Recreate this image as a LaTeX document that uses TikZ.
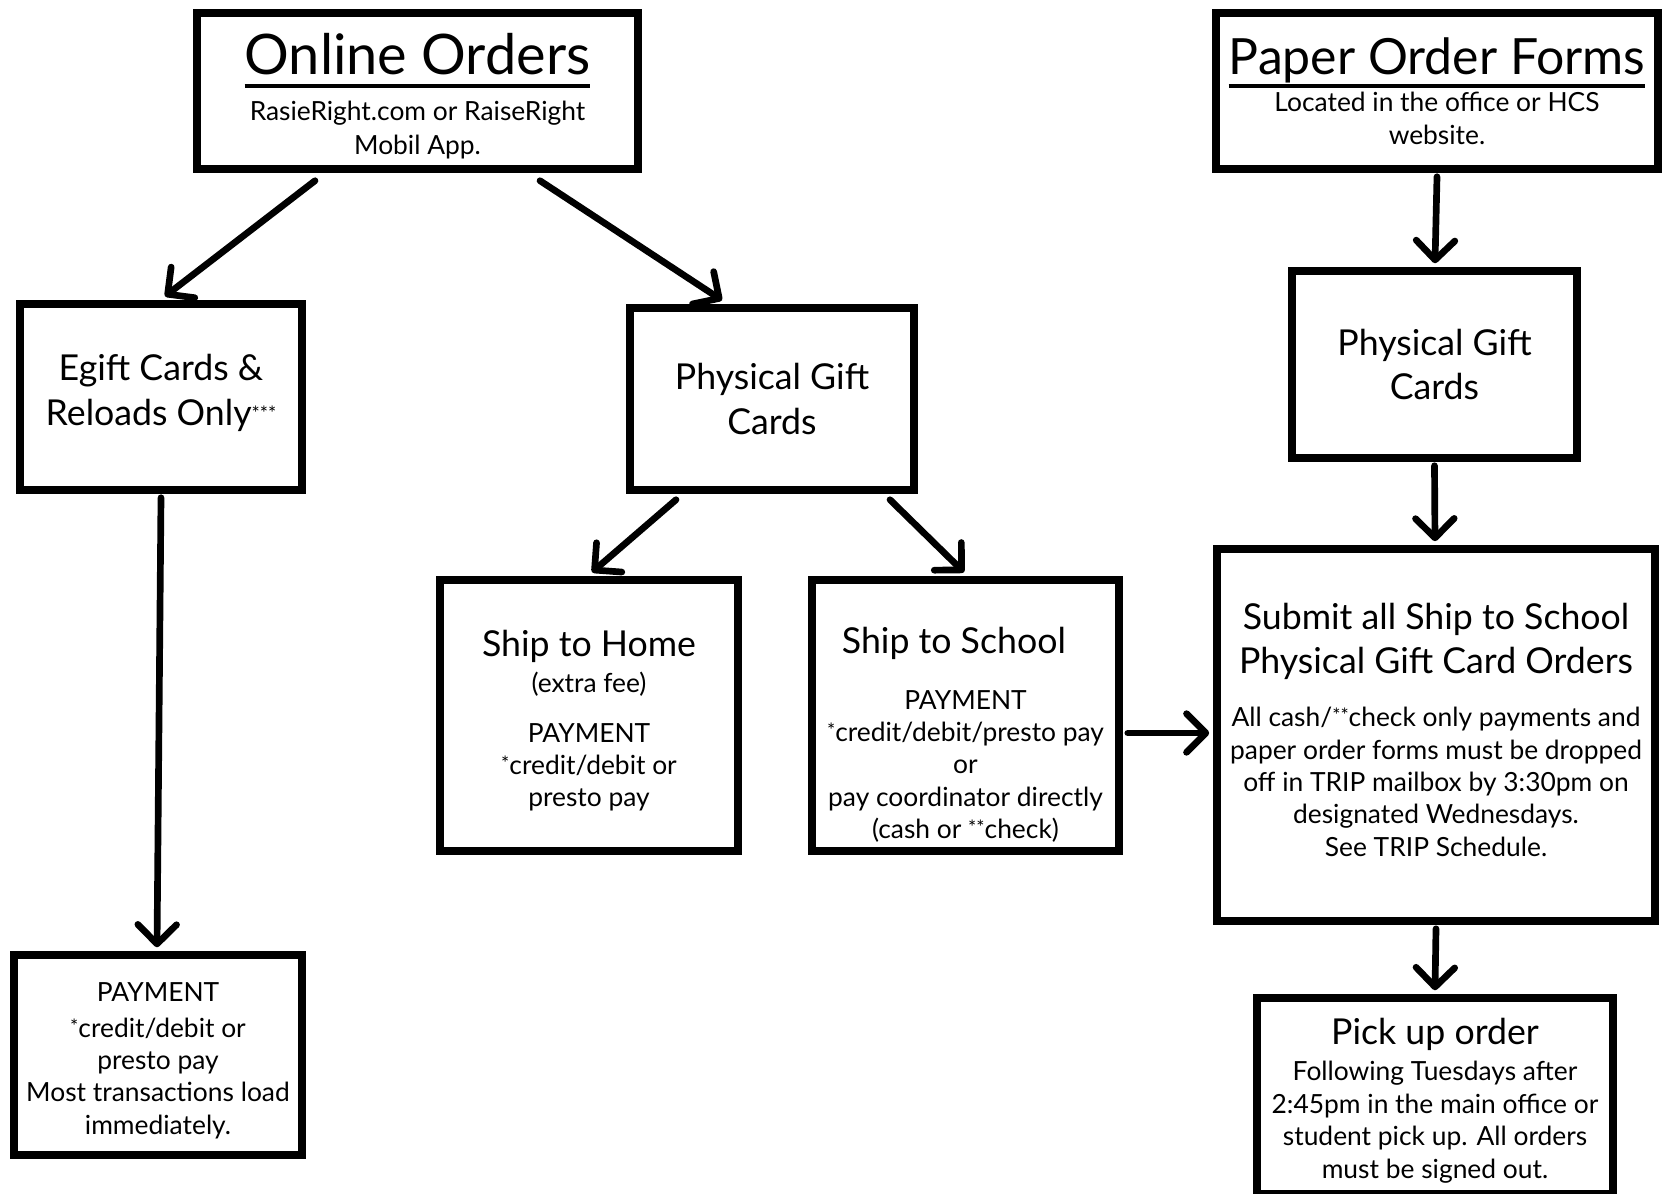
\documentclass[tikz,border=0pt]{standalone}
\usepackage{fontspec}
\setmainfont{Lato}
\usetikzlibrary{arrows.meta,calc}
\newcommand\titleline[1]{\setbox0\hbox{#1}\rlap{\rule[-4pt]{\wd0}{1.1pt}}\box0}
\newcommand\midtxt{\fontsize{10.15}{12.7}\selectfont}
\newcommand\smalltxt{\fontsize{7.5}{9.2}\selectfont\lineskiplimit=-20pt\lineskip=0pt}
\newcommand\stars[1]{\raisebox{0.3ex}{\fontsize{5.5}{5.5}\selectfont #1}}

\begin{document}
\begin{tikzpicture}[x=0.01cm,y=-0.01cm,
    box/.style={draw,line width=2.1pt,inner sep=0pt,align=center,font=\smalltxt},
    arr/.style={line width=1.9pt,line cap=round,-{Straight Barb[length=5.5pt,width=11pt,round]}}]
  \useasboundingbox (0,0) rectangle (1666,1194);
  \fill[white] (0,0) rectangle (1666,1194);

  % online side
  \node[box,minimum width=4.41cm,minimum height=1.56cm] (online) at (417.5,91)
    {\rule{0pt}{14.5pt}\fontsize{15.9}{18}\selectfont\titleline{Online Orders}\\[4pt]
     RasieRight.com or RaiseRight\\[0.4pt] Mobil App.};
  \node[box,minimum width=2.82cm,minimum height=1.86cm] (egift) at (161,397)
    {\midtxt Egift Cards \&\\[3.5pt] \midtxt Reloads Only\stars{***}\rule[-4pt]{0pt}{0pt}};
  \node[box,minimum width=2.84cm,minimum height=1.82cm] (physA) at (772,399)
    {\midtxt Physical Gift\\[3.5pt] \midtxt Cards};
  \node[box,minimum width=2.88cm,minimum height=2.00cm] (payment) at (158,1055)
    {\rule{0pt}{8.5pt}PAYMENT\\[1.1pt] \stars{*}credit/debit or\\ presto pay\\
     Most transactions load\\ immediately.};
  \node[box,minimum width=2.98cm,minimum height=2.71cm] (home) at (589,715.5)
    {\rule{0pt}{10.5pt}\midtxt Ship to Home\\[0.9pt] (extra fee)\\[5pt] PAYMENT\\
     \stars{*}credit/debit or\\ presto pay};
  \node[box,minimum width=3.07cm,minimum height=2.71cm] (school) at (965.5,715.5)
    {\rule{0pt}{18.5pt}\midtxt Ship to School\hspace*{6.6pt}\\[6.5pt] PAYMENT\\ \stars{*}credit/debit/presto pay\\
     or\\ pay coordinator directly\\ (cash or \stars{**}check)};

  % paper side
  \node[box,minimum width=4.42cm,minimum height=1.56cm] (paper) at (1437,91)
    {\fontsize{14.2}{17}\selectfont\titleline{Paper Order Forms}\\[1.5pt]
     Located in the office or HCS\\ website.};
  \node[box,minimum width=2.85cm,minimum height=1.87cm] (physB) at (1434.5,364.5)
    {\midtxt Physical Gift\\[3.5pt] \midtxt Cards};
  \node[box,minimum width=4.38cm,minimum height=3.72cm] (submit) at (1436,735)
    {\midtxt Submit all Ship to School\\[3.2pt] \midtxt Physical Gift Card Orders\\[6pt]
     All cash/\stars{**}check only payments and\\ paper order forms must be dropped\\
     off in TRIP mailbox by 3:30pm on\\ designated Wednesdays.\\
     See TRIP Schedule.\rule[-3pt]{0pt}{0pt}};
  \node[box,minimum width=3.56cm,minimum height=1.96cm] (pickup) at (1435,1096)
    {\rule{0pt}{10pt}\midtxt Pick up order\\[1.2pt] Following Tuesdays after\\ 2:45pm in the main office or\\
     student pick up. All orders\\ must be signed out.};

  % arrows
  \draw[arr] ($(online.south)+(-102.5,8)$) -- ($(egift.north)+(4,-4)$);
  \draw[arr] ($(online.south)+(122.5,8)$) -- ($(physA.north)+(-50,-4)$);
  \draw[arr] ($(egift.south)+(0,4)$) -- ($(payment.north)+(-1,-4)$);
  \draw[arr] ($(physA.south)+(-96,6)$) -- ($(home.north)+(3,-4)$);
  \draw[arr] ($(physA.south)+(118,6)$) -- ($(school.north)+(-1.5,-4)$);
  \draw[arr] ($(school.east)+(5,17.5)$) -- ($(submit.west)+(-4,-2)$);
  \draw[arr] ($(paper.south)+(0,4)$) -- ($(physB.north)+(0.5,-4)$);
  \draw[arr] ($(physB.south)+(0,4)$) -- ($(submit.north)+(-1,-4)$);
  \draw[arr] ($(submit.south)+(0,4)$) -- ($(pickup.north)+(0,-4)$);
\end{tikzpicture}
\end{document}
